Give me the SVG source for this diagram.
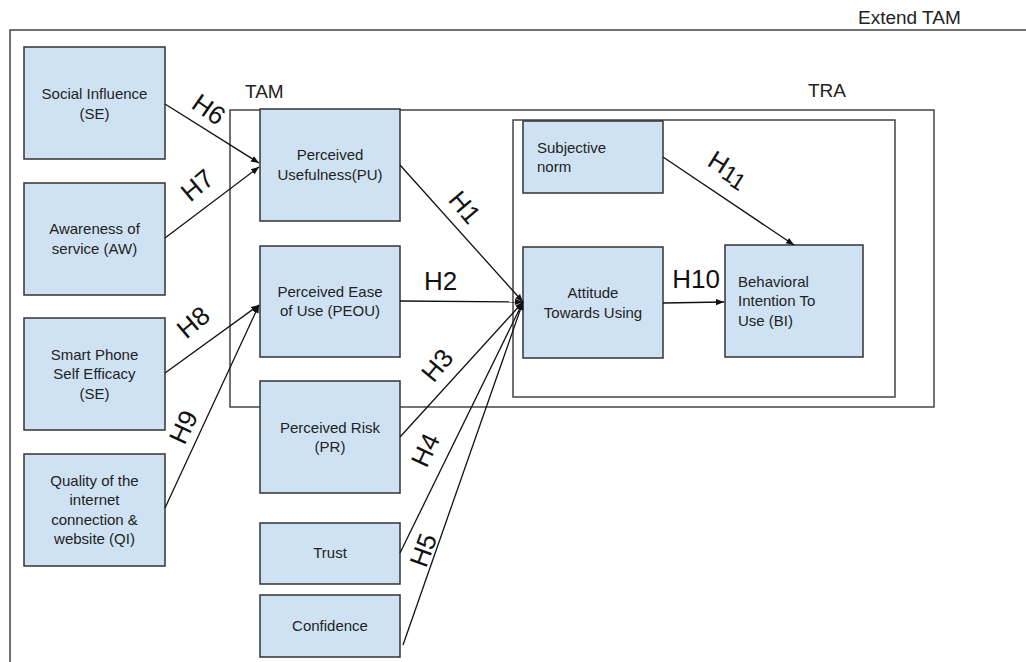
<svg xmlns="http://www.w3.org/2000/svg" width="1026" height="662" viewBox="0 0 1026 662">
  <style>
    .frame { fill: none; stroke: #444; stroke-width: 1.5; }
    .box { fill: #cfe2f3; stroke: #333; stroke-width: 1.5; }
    .lbl { font-family: "Liberation Sans", Arial, sans-serif; font-size: 15px; fill: #222; }
    .mid { text-anchor: middle; }
    .title { font-family: "Liberation Sans", Arial, sans-serif; font-size: 19px; fill: #222; }
    .hyp { font-family: "Liberation Sans", Arial, sans-serif; font-size: 26px; fill: #111; text-anchor: middle; }
    .edge { stroke: #111; stroke-width: 1.3; fill: none; marker-end: url(#arrow); }
  </style>
  <defs>
    <marker id="arrow" viewBox="0 0 10 10" refX="10" refY="5" markerWidth="8" markerHeight="8" markerUnits="userSpaceOnUse" orient="auto">
      <path d="M0,1 L10,5 L0,9 z" fill="#111"/>
    </marker>
  </defs>
  <rect width="1026" height="662" fill="#fff"/>

  <!-- model frames -->
  <g id="frames">
    <rect class="frame" x="10" y="30" width="1030" height="700"/>
    <text class="title" x="858" y="24">Extend TAM</text>
    <rect class="frame" x="230" y="110" width="704" height="297"/>
    <text class="title" x="245" y="98">TAM</text>
    <rect class="frame" x="513" y="120" width="382" height="277"/>
    <text class="title" x="808" y="97">TRA</text>
  </g>

  <!-- external factors -->
  <g id="social-influence">
    <rect class="box" x="24" y="47" width="141" height="112"/>
    <text class="lbl mid" x="94.5" y="99">Social Influence</text>
    <text class="lbl mid" x="94.5" y="119">(SE)</text>
  </g>
  <g id="awareness">
    <rect class="box" x="24" y="183" width="141" height="112"/>
    <text class="lbl mid" x="94.5" y="234">Awareness of</text>
    <text class="lbl mid" x="94.5" y="254">service (AW)</text>
  </g>
  <g id="self-efficacy">
    <rect class="box" x="24" y="318" width="141" height="112"/>
    <text class="lbl mid" x="94.5" y="360">Smart Phone</text>
    <text class="lbl mid" x="94.5" y="379">Self Efficacy</text>
    <text class="lbl mid" x="94.5" y="399">(SE)</text>
  </g>
  <g id="quality">
    <rect class="box" x="24" y="454" width="141" height="112"/>
    <text class="lbl mid" x="94.5" y="486">Quality of the</text>
    <text class="lbl mid" x="94.5" y="505">internet</text>
    <text class="lbl mid" x="94.5" y="525">connection &amp;</text>
    <text class="lbl mid" x="94.5" y="544">website (QI)</text>
  </g>

  <!-- TAM constructs -->
  <g id="usefulness">
    <rect class="box" x="260" y="109" width="140" height="112"/>
    <text class="lbl mid" x="330" y="160">Perceived</text>
    <text class="lbl mid" x="330" y="180">Usefulness(PU)</text>
  </g>
  <g id="ease-of-use">
    <rect class="box" x="260" y="246" width="140" height="111"/>
    <text class="lbl mid" x="330" y="297">Perceived Ease</text>
    <text class="lbl mid" x="330" y="316">of Use (PEOU)</text>
  </g>
  <g id="risk">
    <rect class="box" x="260" y="381" width="140" height="112"/>
    <text class="lbl mid" x="330" y="433">Perceived Risk</text>
    <text class="lbl mid" x="330" y="452">(PR)</text>
  </g>
  <g id="trust">
    <rect class="box" x="260" y="523" width="140" height="61"/>
    <text class="lbl mid" x="330" y="558">Trust</text>
  </g>
  <g id="confidence">
    <rect class="box" x="260" y="595" width="140" height="62"/>
    <text class="lbl mid" x="330" y="631">Confidence</text>
  </g>

  <!-- TRA constructs -->
  <g id="subjective-norm">
    <rect class="box" x="523" y="121" width="140" height="72"/>
    <text class="lbl" x="537" y="153">Subjective</text>
    <text class="lbl" x="537" y="172">norm</text>
  </g>
  <g id="attitude">
    <rect class="box" x="523" y="247" width="140" height="111"/>
    <text class="lbl mid" x="593" y="298">Attitude</text>
    <text class="lbl mid" x="593" y="318">Towards Using</text>
  </g>
  <g id="intention">
    <rect class="box" x="725" y="245" width="138" height="112"/>
    <text class="lbl" x="738" y="287">Behavioral</text>
    <text class="lbl" x="738" y="306">Intention To</text>
    <text class="lbl" x="738" y="326">Use (BI)</text>
  </g>

  <!-- hypothesised paths -->
  <g id="connectors">
    <line class="edge" x1="165" y1="104" x2="259" y2="163"/>
    <line class="edge" x1="165" y1="238" x2="259" y2="167"/>
    <line class="edge" x1="165" y1="373" x2="259" y2="305"/>
    <line class="edge" x1="165" y1="508" x2="259" y2="305"/>
    <line class="edge" x1="400" y1="165" x2="523" y2="302"/>
    <line class="edge" x1="400" y1="301" x2="523" y2="302"/>
    <line class="edge" x1="400" y1="437" x2="523" y2="302"/>
    <line class="edge" x1="400" y1="553" x2="523" y2="302"/>
    <line class="edge" x1="403" y1="645" x2="523" y2="302"/>
    <line class="edge" x1="663" y1="303" x2="724" y2="302"/>
    <line class="edge" x1="663" y1="157" x2="794" y2="245"/>

    <text class="hyp" transform="translate(209,109) rotate(35)" dy="0.36em">H6</text>
    <text class="hyp" transform="translate(197,185) rotate(-40)" dy="0.36em">H7</text>
    <text class="hyp" transform="translate(193,322) rotate(-40)" dy="0.36em">H8</text>
    <text class="hyp" transform="translate(183,427) rotate(-65)" dy="0.36em">H9</text>
    <text class="hyp" transform="translate(465,207) rotate(50)" dy="0.36em">H1</text>
    <text class="hyp" x="440.5" y="290">H2</text>
    <text class="hyp" transform="translate(437,365) rotate(-50)" dy="0.36em">H3</text>
    <text class="hyp" transform="translate(425,450) rotate(-65)" dy="0.36em">H4</text>
    <text class="hyp" transform="translate(423,550) rotate(-70)" dy="0.36em">H5</text>
    <text class="hyp" x="696" y="288">H10</text>
    <text class="hyp" transform="translate(729,168) rotate(32)" dy="0.36em">H<tspan font-size="23" dy="3">1</tspan><tspan font-size="23" dy="2">1</tspan></text>
  </g>
</svg>
